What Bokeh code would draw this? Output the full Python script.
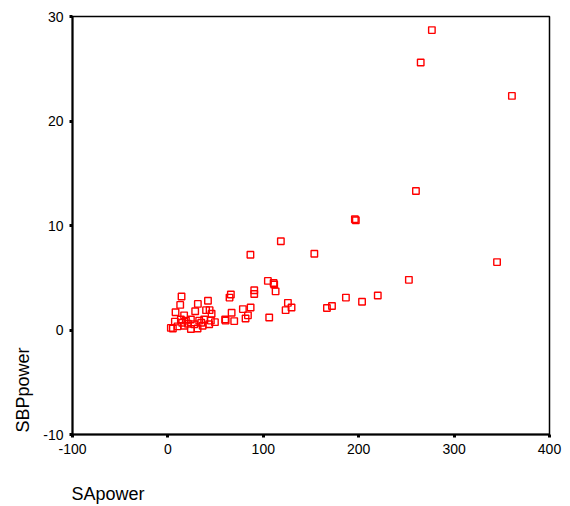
from bokeh.plotting import figure
from bokeh.models import Range1d, FixedTicker, Title, ColumnDataSource
from bokeh.embed import file_html
from bokeh.resources import INLINE

# Data
sa_power = [276.7, 265.0, 360.6, 260.0, 197.0, 196.0, 153.5, 345.0, 118.4, 86.5,
            252.6, 220.0, 203.5, 186.6, 172.0, 166.7,
            104.8, 110.8, 111.4, 112.9, 66.0, 64.6, 90.5, 90.5, 125.8, 129.6,
            123.4, 86.7, 78.6, 66.8, 83.9, 81.4, 106.2, 60.5, 60.0, 69.5,
            14.3, 12.9, 42.0, 31.4, 8.0, 28.6, 40.0, 43.7, 45.8, 17.0,
            7.3, 49.3, 38.0, 3.1, 5.2, 13.6, 18.9, 24.1, 32.8, 45.0,
            10.1, 17.1, 24.1, 31.1, 36.4, 43.3, 27.6, 21.0, 15.0, 35.0]
sbp_power = [28.7, 25.6, 22.4, 13.3, 10.5, 10.6, 7.3, 6.5, 8.5, 7.2,
             4.8, 3.3, 2.7, 3.1, 2.3, 2.1,
             4.7, 4.5, 4.35, 3.7, 3.4, 3.1, 3.8, 3.45, 2.6, 2.15,
             1.9, 2.15, 2.0, 1.65, 1.4, 1.1, 1.2, 0.9, 1.0, 0.85,
             3.2, 2.4, 2.8, 2.5, 1.7, 1.8, 1.9, 1.9, 1.55, 1.4,
             0.8, 0.75, 1.0, 0.2, 0.15, 1.0, 0.9, 1.0, 0.9, 0.9,
             0.35, 0.4, 0.1, 0.15, 0.4, 0.55, 0.55, 0.6, 0.7, 0.7]
x_ticks = [-100, 0, 100, 200, 300, 400]
y_ticks = [-10, 0, 10, 20, 30]
x_title = "SApower"
y_title = "SBPpower"

FONT = "Liberation Sans"

p = figure(width=562, height=506, output_backend="svg", toolbar_location=None,
           x_range=Range1d(-100, 400), y_range=Range1d(-10, 30),
           min_border_left=72, min_border_right=13, min_border_top=16,
           min_border_bottom=72)
p.background_fill_color = "white"
p.border_fill_color = "white"
p.grid.visible = False
p.outline_line_color = "black"
p.outline_line_width = 1.5

for ax in (p.xaxis[0], p.yaxis[0]):
    ax.axis_line_color = "black"
    ax.axis_line_width = 2
    ax.major_tick_line_color = "black"
    ax.major_tick_line_width = 3
    ax.major_tick_out = 3
    ax.major_tick_in = 0
    ax.minor_tick_line_color = None
    ax.major_label_text_font = FONT
    ax.major_label_text_font_size = "14px"
    ax.major_label_text_color = "black"

p.xaxis.ticker = FixedTicker(ticks=x_ticks)
p.yaxis.ticker = FixedTicker(ticks=y_ticks)
p.xaxis.major_label_overrides = {t: str(t) for t in x_ticks}
p.yaxis.major_label_overrides = {t: str(t) for t in y_ticks}
p.xaxis.major_label_standoff = 6
p.yaxis.major_label_standoff = 6
# blank spacer label to push the x title further down
p.xaxis.axis_label = " "
p.xaxis.axis_label_text_font_size = "1px"
p.xaxis.axis_label_standoff = 21

src = ColumnDataSource(dict(x=sa_power, y=sbp_power))
p.scatter("x", "y", source=src, marker="square", size=6.5,
          fill_color=None, line_color="#FF0000", line_width=1.4)

p.add_layout(Title(text=x_title, align="left", offset=-1, standoff=0,
                   vertical_align="bottom",
                   text_font=FONT, text_font_size="18px", text_font_style="normal",
                   text_color="black"), "below")
p.add_layout(Title(text=y_title, align="left", offset=2, standoff=16,
                   text_font=FONT, text_font_size="18px", text_font_style="normal",
                   text_color="black"), "left")

open("out.html", "w").write(file_html(p, INLINE))
